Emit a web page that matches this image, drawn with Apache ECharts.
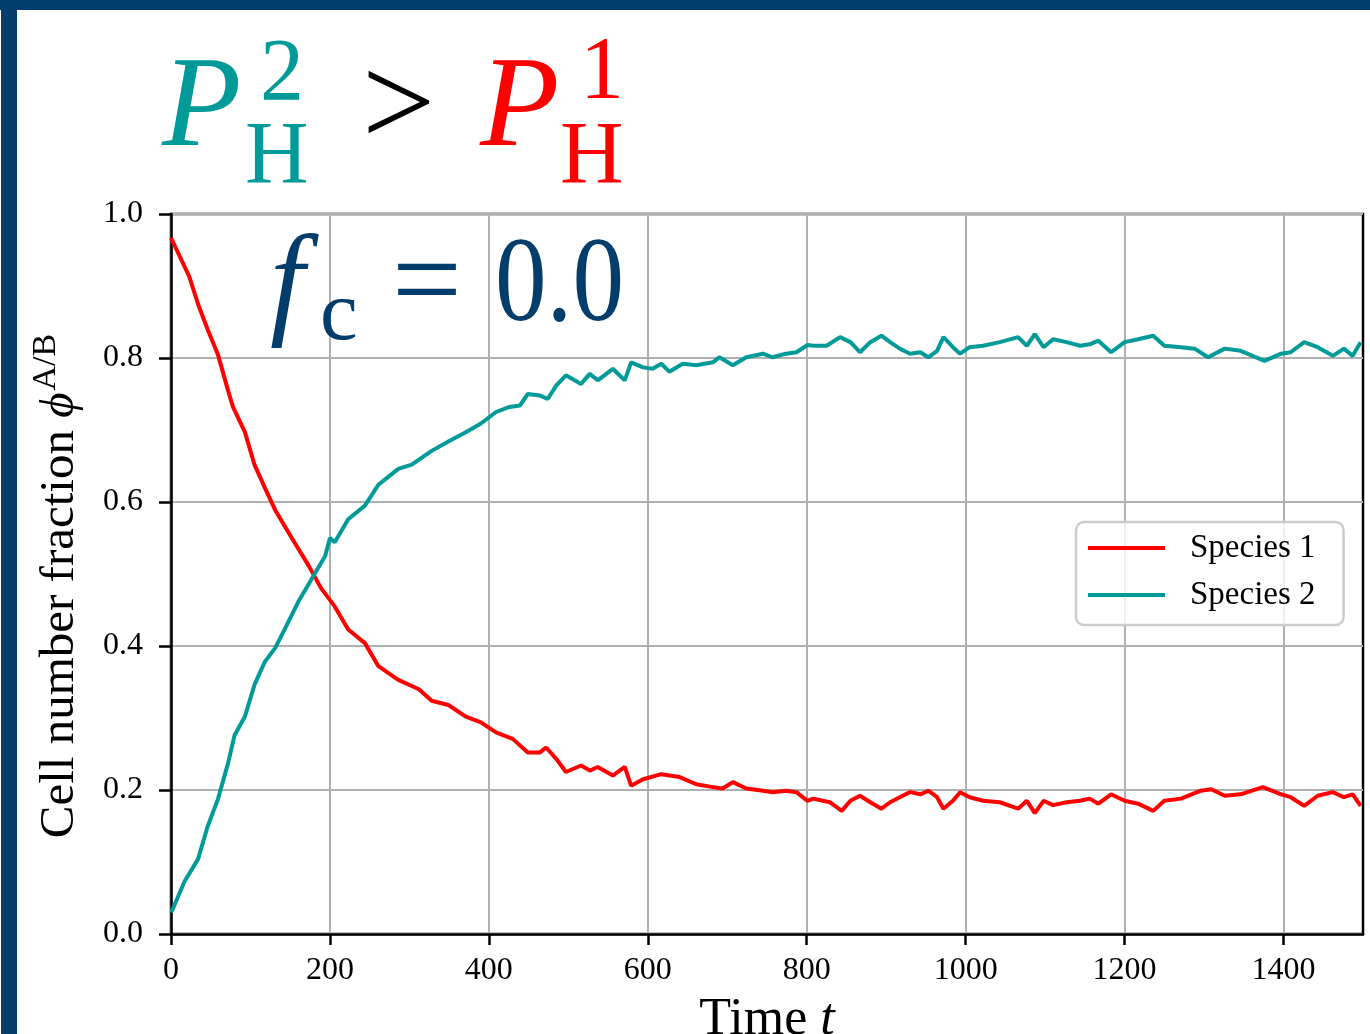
<!DOCTYPE html>
<html>
<head>
<meta charset="utf-8">
<script src="https://cdn.jsdelivr.net/npm/echarts@6/dist/echarts.min.js"></script>
<style>
  html, body { margin: 0; padding: 0; background: #fff; }
  #main { width: 1370px; height: 1034px; }
</style>
</head>
<body>
<div id="main"></div>
<script>
// species 1 (red)
var t1 = [0, 23, 34, 46, 59, 72, 78, 93, 105, 118, 131, 152, 173, 189, 206, 223, 244, 261, 286, 312,
  328, 349, 371, 390, 409, 430, 449, 464, 472, 485, 497, 516, 527, 537, 556, 571, 579, 594, 617, 640,
  661, 682, 694, 707, 724, 745, 757, 774, 787, 801, 808, 829, 844, 855, 867, 880, 894, 905, 917, 930,
  943, 953, 964, 972, 984, 993, 1005, 1022, 1043, 1066, 1077, 1087, 1098, 1110, 1127, 1144, 1156, 1167, 1183, 1200,
  1217, 1236, 1250, 1271, 1296, 1309, 1326, 1346, 1374, 1397, 1409, 1426, 1443, 1462, 1476, 1487, 1497];
var species1 = [0.967, 0.913, 0.875, 0.84, 0.805, 0.754, 0.732, 0.697, 0.652, 0.62, 0.589, 0.55, 0.512, 0.48, 0.455, 0.423, 0.404, 0.372, 0.353, 0.34,
  0.324, 0.318, 0.302, 0.294, 0.28, 0.271, 0.252, 0.252, 0.259, 0.243, 0.225, 0.234, 0.227, 0.232, 0.22, 0.232, 0.206, 0.215, 0.222, 0.218,
  0.208, 0.204, 0.202, 0.211, 0.202, 0.199, 0.197, 0.199, 0.197, 0.185, 0.188, 0.183, 0.171, 0.185, 0.192, 0.183, 0.174, 0.183, 0.19, 0.197,
  0.194, 0.199, 0.19, 0.174, 0.185, 0.197, 0.19, 0.185, 0.183, 0.174, 0.185, 0.168, 0.185, 0.179, 0.183, 0.185, 0.188, 0.181, 0.194, 0.185,
  0.181, 0.171, 0.185, 0.188, 0.199, 0.201, 0.192, 0.194, 0.204, 0.194, 0.19, 0.178, 0.192, 0.197, 0.19, 0.194, 0.178];

// species 2 (teal)
var t2 = [0, 2, 17, 34, 46, 59, 72, 80, 93, 105, 118, 131, 143, 160, 177, 194, 200, 206, 223, 244,
  261, 286, 303, 328, 349, 371, 390, 409, 426, 439, 449, 464, 474, 485, 497, 516, 527, 537, 556, 571,
  579, 594, 606, 617, 627, 644, 661, 682, 690, 707, 724, 745, 757, 774, 787, 801, 808, 825, 842, 855,
  867, 880, 894, 905, 917, 930, 943, 953, 964, 972, 984, 993, 1005, 1022, 1043, 1066, 1077, 1087, 1098, 1110,
  1127, 1144, 1156, 1167, 1183, 1200, 1217, 1236, 1250, 1271, 1288, 1305, 1326, 1346, 1361, 1376, 1397, 1409, 1426, 1443,
  1462, 1476, 1487, 1497];
var species2 = [0.03, 0.034, 0.073, 0.104, 0.149, 0.187, 0.238, 0.276, 0.302, 0.346, 0.378, 0.397, 0.423, 0.461, 0.493, 0.525, 0.55, 0.544, 0.576, 0.595,
  0.624, 0.646, 0.652, 0.671, 0.684, 0.697, 0.709, 0.725, 0.732, 0.734, 0.75, 0.748, 0.743, 0.762, 0.776, 0.764, 0.778, 0.769, 0.785, 0.769,
  0.794, 0.787, 0.785, 0.792, 0.781, 0.792, 0.79, 0.794, 0.801, 0.79, 0.801, 0.806, 0.801, 0.806, 0.808, 0.818, 0.817, 0.817, 0.829, 0.822,
  0.808, 0.822, 0.831, 0.822, 0.813, 0.806, 0.808, 0.801, 0.81, 0.829, 0.815, 0.806, 0.815, 0.817, 0.822, 0.829, 0.817, 0.833, 0.815, 0.826,
  0.822, 0.817, 0.819, 0.824, 0.808, 0.822, 0.826, 0.831, 0.817, 0.815, 0.813, 0.801, 0.813, 0.81, 0.803, 0.796, 0.806, 0.808, 0.822, 0.815,
  0.803, 0.813, 0.803, 0.822];

var xTicks = [0, 200, 400, 600, 800, 1000, 1200, 1400];
var seriesNames = ['Species 1', 'Species 2'];

var RED = '#ff0000';
var TEAL = '#009a98';
var NAVY = '#033d6b';
var FONT = '"Liberation Serif", "DejaVu Serif", serif';

function pairs(ts, vs) {
  var out = [];
  for (var i = 0; i < vs.length; i++) {
    out.push([ts[i], vs[i]]);
  }
  return out;
}

// big formula texts on top (graphic layer)
function txt(s, x, y, size, color, italic, sx) {
  return {
    type: 'text', z: 100,
    x: x, y: y, scaleX: sx || 1,
    style: {
      text: s, x: 0, y: 0,
      font: (italic ? 'italic ' : '') + size + 'px ' + FONT,
      fill: color, verticalAlign: 'middle'
    }
  };
}

var chart = echarts.init(document.getElementById('main'));
chart.setOption({
  backgroundColor: '#fff',
  animation: false,
  grid: {
    left: 171, top: 214, width: 1192, height: 720,
    outerBoundsMode: 'none', containLabel: false,
    show: true, borderColor: '#000', borderWidth: 2.5, backgroundColor: 'transparent'
  },
  legend: {
    data: seriesNames,
    orient: 'vertical',
    left: 1076, top: 522,
    icon: 'rect',
    itemWidth: 77, itemHeight: 4,
    itemGap: 11,
    padding: [8, 28, 12, 12],
    backgroundColor: 'rgba(255,255,255,0.8)',
    borderColor: '#cccccc', borderWidth: 2.5, borderRadius: 8,
    textStyle: { fontFamily: FONT, fontSize: 33, color: '#000', lineHeight: 36, padding: [0, 0, 0, 20] }
  },
  xAxis: {
    type: 'value',
    min: 0, max: 1500, interval: 200,
    name: 'Time {i|t}',
    nameLocation: 'middle',
    nameGap: 60,
    nameTextStyle: {
      fontFamily: FONT, fontSize: 52, color: '#000',
      rich: { i: { fontFamily: FONT, fontSize: 52, fontStyle: 'italic', color: '#000' } }
    },
    axisLine: { lineStyle: { color: '#000', width: 2.5 } },
    axisTick: { show: true, inside: false, length: 11, lineStyle: { color: '#000', width: 2.5 }, customValues: xTicks },
    axisLabel: {
      color: '#000', fontFamily: FONT, fontSize: 32, margin: 21, customValues: xTicks,
      formatter: function (v) { return String(v); }
    },
    splitLine: { show: true, lineStyle: { color: '#b0b0b0', width: 2 } }
  },
  yAxis: {
    type: 'value',
    min: 0, max: 1, interval: 0.2,
    name: 'Cell number fraction {i|ϕ}{sup|A/B}',
    nameLocation: 'middle',
    nameGap: 80,
    nameTextStyle: {
      fontFamily: FONT, fontSize: 49, color: '#000',
      padding: [0, 24, 0, 0],
      rich: {
        i: { fontFamily: FONT, fontSize: 49, fontStyle: 'italic', color: '#000' },
        sup: { fontFamily: FONT, fontSize: 34, color: '#000', padding: [0, 0, 28, 2] }
      }
    },
    axisLine: { lineStyle: { color: '#000', width: 2.5 } },
    axisTick: { show: true, inside: false, length: 12, lineStyle: { color: '#000', width: 2.5 } },
    axisLabel: {
      color: '#000', fontFamily: FONT, fontSize: 32, margin: 28,
      formatter: function (v) { return v.toFixed(1); }
    },
    splitLine: { show: true, lineStyle: { color: '#b0b0b0', width: 2 } }
  },
  series: [
    {
      name: seriesNames[0], type: 'line', data: pairs(t1, species1),
      showSymbol: false, symbol: 'none',
      lineStyle: { color: RED, width: 4 }, itemStyle: { color: RED }
    },
    {
      name: seriesNames[1], type: 'line', data: pairs(t2, species2),
      showSymbol: false, symbol: 'none',
      lineStyle: { color: TEAL, width: 4 }, itemStyle: { color: TEAL }
    }
  ],
  graphic: [
    // dark frame around the panel
    { type: 'rect', shape: { x: 0, y: 0, width: 1370, height: 10 }, style: { fill: NAVY }, z: 200 },
    { type: 'rect', shape: { x: 1, y: 0, width: 16, height: 1034 }, style: { fill: NAVY }, z: 200 },
    // P_H^2 > P_H^1
    txt('P', 162, 111, 130, TEAL, true),
    txt('2', 260, 76, 88, TEAL, false),
    txt('H', 245, 159, 88, TEAL, false),
    txt('>', 362, 111, 130, '#000', false),
    txt('P', 480, 111, 130, RED, true),
    txt('1', 580, 74, 88, RED, false),
    txt('H', 560, 159, 88, RED, false),
    // f_c = 0.0
    txt('f', 270, 288, 124, NAVY, true),
    txt('c', 320, 317, 85, NAVY, false),
    txt('=', 392, 288, 124, NAVY, false),
    txt('0.0', 495, 288, 120, NAVY, false, 0.86)
  ]
});
</script>
</body>
</html>
